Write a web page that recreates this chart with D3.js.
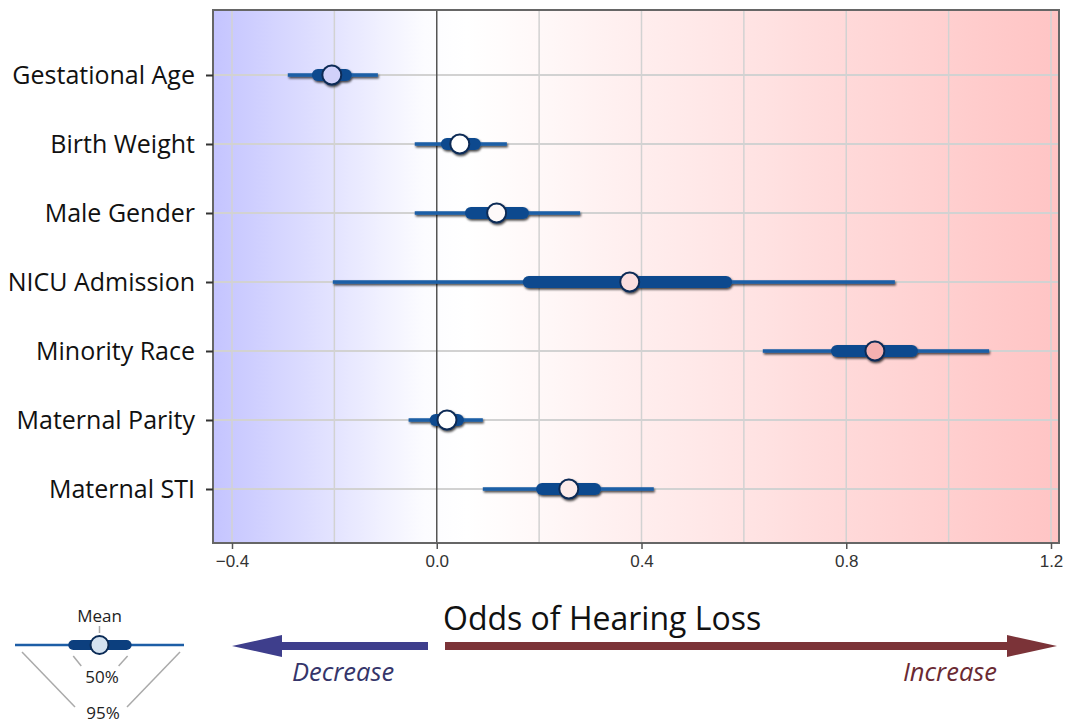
<!DOCTYPE html>
<html>
<head>
<meta charset="utf-8">
<script src="https://cdn.jsdelivr.net/npm/d3@7"></script>
<style>
  body { margin: 0; background: #fff; }
  svg { display: block; }
</style>
</head>
<body>
<div id="chart"></div>
<script>
// Values
var factors = ["Gestational Age", "Birth Weight", "Male Gender", "NICU Admission",
               "Minority Race", "Maternal Parity", "Maternal STI"];
var means = [-0.205, 0.045, 0.117, 0.377, 0.856, 0.020, 0.258];
var lo50  = [-0.242, 0.010, 0.057, 0.170, 0.772, -0.012, 0.196];
var hi50  = [-0.168, 0.084, 0.178, 0.575, 0.938, 0.051, 0.319];
var lo95  = [-0.291, -0.043, -0.043, -0.203, 0.637, -0.055, 0.090];
var hi95  = [-0.115, 0.137, 0.280, 0.895, 1.079, 0.090, 0.424];
var xTicks = [-0.4, 0.0, 0.4, 0.8, 1.2];
var xGrid = [-0.4, -0.2, 0.2, 0.4, 0.6, 0.8, 1.0, 1.2];

// schematic legend (mean at 0)
var legendLabels = ["Mean", "50%", "95%"];
var legendVals = {lo95: -1, lo50: -0.37, mean: 0, hi50: 0.38, hi95: 1};

var W = 1068, H = 726;
var plot = {left: 213, right: 1059, top: 10, bottom: 543};

var svg = d3.select("#chart").append("svg")
    .attr("width", W).attr("height", H);

var defs = svg.append("defs");

var x = d3.scaleLinear().domain([-0.4, 1.2]).range([232, 1051]);
var y = d3.scalePoint().domain(factors).range([75, 489]);

// background colour along the axis
var bgColor = d3.scaleLinear()
    .domain([x.invert(plot.left), 0, 0.06, x.invert(plot.right)])
    .range(["#c4c4ff", "#ffffff", "#ffffff", "#ffc4c4"]);
var dotColor = d3.scaleLinear()
    .domain([x.invert(plot.left), 0, 0.06, x.invert(plot.right)])
    .range(["#9c9cf4", "#ffffff", "#ffffff", "#f08c8c"]);

var grad = defs.append("linearGradient").attr("id", "bg")
    .attr("x1", "0%").attr("x2", "100%").attr("y1", "0%").attr("y2", "0%");
d3.range(0, 1.0001, 0.05).forEach(function(t){
    var v = x.invert(plot.left + t * (plot.right - plot.left));
    grad.append("stop").attr("offset", (t * 100) + "%").attr("stop-color", bgColor(v));
});

var shadow = defs.append("filter").attr("id", "shadow")
    .attr("x", "-20%").attr("y", "-50%").attr("width", "140%").attr("height", "200%");
shadow.append("feDropShadow")
    .attr("dx", 1).attr("dy", 1.6).attr("stdDeviation", 0.8)
    .attr("flood-color", "#000").attr("flood-opacity", 0.75);

svg.append("rect")
    .attr("x", plot.left).attr("y", plot.top)
    .attr("width", plot.right - plot.left).attr("height", plot.bottom - plot.top)
    .attr("fill", "url(#bg)");

// grid
svg.append("g").selectAll("line").data(xGrid).join("line")
    .attr("x1", function(d){ return x(d); }).attr("x2", function(d){ return x(d); })
    .attr("y1", plot.top).attr("y2", plot.bottom)
    .attr("stroke", "#d2d2d2").attr("stroke-width", 1.5);

svg.append("g").selectAll("line").data(factors).join("line")
    .attr("x1", plot.left).attr("x2", plot.right)
    .attr("y1", function(d){ return y(d); }).attr("y2", function(d){ return y(d); })
    .attr("stroke", "#d2d2d2").attr("stroke-width", 2);

svg.append("line")
    .attr("x1", x(0)).attr("x2", x(0))
    .attr("y1", plot.top).attr("y2", plot.bottom)
    .attr("stroke", "#555").attr("stroke-width", 1.5);

// frame
svg.append("rect")
    .attr("x", plot.left).attr("y", plot.top)
    .attr("width", plot.right - plot.left).attr("height", plot.bottom - plot.top)
    .attr("fill", "none").attr("stroke", "#666").attr("stroke-width", 2);

// axes
var xAxis = svg.append("g")
    .attr("transform", "translate(0," + plot.bottom + ")")
    .call(d3.axisBottom(x).tickValues(xTicks).tickSize(6).tickPadding(6)
          .tickFormat(d3.format(".1f")));
xAxis.select(".domain").remove();
xAxis.selectAll("line").attr("stroke", "#555").attr("stroke-width", 1.5);
xAxis.selectAll("text")
    .attr("fill", "#333")
    .style("font-family", "'Liberation Sans Narrow', 'Arial Narrow', sans-serif")
    .style("font-size", "17px");

var yAxis = svg.append("g")
    .attr("transform", "translate(" + plot.left + ",0)")
    .call(d3.axisLeft(y).tickSize(7).tickPadding(11));
yAxis.select(".domain").remove();
yAxis.selectAll("line").attr("stroke", "#333").attr("stroke-width", 2);
yAxis.selectAll("text")
    .attr("fill", "#111")
    .style("font-family", "'Open Sans', sans-serif")
    .style("font-size", "25px");

// one interval glyph
function drawInterval(g, sx, cy, v, fill){
    var gg = g.append("g").attr("filter", "url(#shadow)");
    gg.append("line")
        .attr("x1", sx(v.lo95)).attr("x2", sx(v.hi95))
        .attr("y1", cy).attr("y2", cy)
        .attr("stroke", "#1d5ea6").attr("stroke-width", 3.5);
    gg.append("line")
        .attr("x1", sx(v.lo50) + 5).attr("x2", sx(v.hi50) - 5)
        .attr("y1", cy).attr("y2", cy)
        .attr("stroke", "#0c4a8e").attr("stroke-width", 12)
        .attr("stroke-linecap", "round");
    gg.append("circle")
        .attr("cx", sx(v.mean)).attr("cy", cy).attr("r", 9.5)
        .attr("fill", fill).attr("stroke", "#0a2a55").attr("stroke-width", 2);
}

var marks = svg.append("g");
factors.forEach(function(f, i){
    drawInterval(marks, x, y(f),
        {lo95: lo95[i], lo50: lo50[i], mean: means[i], hi50: hi50[i], hi95: hi95[i]},
        dotColor(means[i]));
});

// title and arrows
svg.append("text")
    .attr("x", 443).attr("y", 630)
    .style("font-family", "'Open Sans', sans-serif")
    .style("font-size", "32px")
    .attr("fill", "#111")
    .text("Odds of Hearing Loss");

function arrow(x0, x1, cy, color){
    var dir = x1 > x0 ? 1 : -1;
    var headLen = 50, headH = 11, shaft = 4;
    var xb = x1 - dir * headLen;
    var pts = [[x0, cy - shaft], [xb, cy - shaft], [xb, cy - headH], [x1, cy],
               [xb, cy + headH], [xb, cy + shaft], [x0, cy + shaft]];
    svg.append("path")
        .attr("d", d3.line()(pts) + "Z")
        .attr("fill", color);
}
arrow(428, 232, 646, "#3e3e8c");
arrow(445, 1057, 646, "#7b3338");

svg.append("text")
    .attr("x", 292).attr("y", 681)
    .style("font-family", "'Open Sans', sans-serif")
    .style("font-size", "25.5px").style("font-style", "italic")
    .attr("fill", "#35356a")
    .text("Decrease");
svg.append("text")
    .attr("x", 997).attr("y", 681).attr("text-anchor", "end")
    .style("font-family", "'Open Sans', sans-serif")
    .style("font-size", "25.5px").style("font-style", "italic")
    .attr("fill", "#6a2a32")
    .text("Increase");

// legend
var lx = d3.scaleLinear().domain([-1, 1]).range([15, 184]);
var ly = 645;
var leg = svg.append("g");
var guide = "#aaa";
leg.append("line").attr("x1", lx(legendVals.mean)).attr("x2", lx(legendVals.mean))
    .attr("y1", 626).attr("y2", 633).attr("stroke", guide).attr("stroke-width", 1.5);
leg.append("line").attr("x1", lx(legendVals.lo50) + 5).attr("x2", lx(legendVals.lo50) + 13)
    .attr("y1", 656).attr("y2", 666).attr("stroke", guide).attr("stroke-width", 1.5);
leg.append("line").attr("x1", lx(legendVals.hi50) - 4).attr("x2", lx(legendVals.hi50) - 13)
    .attr("y1", 656).attr("y2", 666).attr("stroke", guide).attr("stroke-width", 1.5);
leg.append("line").attr("x1", lx(legendVals.lo95) + 7).attr("x2", 75)
    .attr("y1", 652).attr("y2", 707).attr("stroke", guide).attr("stroke-width", 1.5);
leg.append("line").attr("x1", lx(legendVals.hi95) - 4).attr("x2", 127)
    .attr("y1", 652).attr("y2", 707).attr("stroke", guide).attr("stroke-width", 1.5);

var legTail = leg.append("g");
legTail.append("line")
    .attr("x1", lx(legendVals.lo95)).attr("x2", lx(legendVals.hi95))
    .attr("y1", ly).attr("y2", ly)
    .attr("stroke", "#1d5ea6").attr("stroke-width", 2.5);
legTail.append("line")
    .attr("x1", lx(legendVals.lo50) + 5).attr("x2", lx(legendVals.hi50) - 5)
    .attr("y1", ly).attr("y2", ly)
    .attr("stroke", "#0c3f7e").attr("stroke-width", 10).attr("stroke-linecap", "round");
legTail.append("circle")
    .attr("cx", lx(legendVals.mean)).attr("cy", ly).attr("r", 9)
    .attr("fill", "#d4e2f0").attr("stroke", "#0a2a55").attr("stroke-width", 2);

var legText = [[lx(legendVals.mean), 622], [102, 683], [103, 719]];
leg.selectAll("text.lab").data(legendLabels).join("text")
    .attr("class", "lab")
    .attr("x", function(d, i){ return legText[i][0]; })
    .attr("y", function(d, i){ return legText[i][1]; })
    .attr("text-anchor", "middle")
    .style("font-family", "'Open Sans', sans-serif")
    .style("font-size", "17px")
    .attr("fill", "#222")
    .text(function(d){ return d; });
</script>
</body>
</html>
